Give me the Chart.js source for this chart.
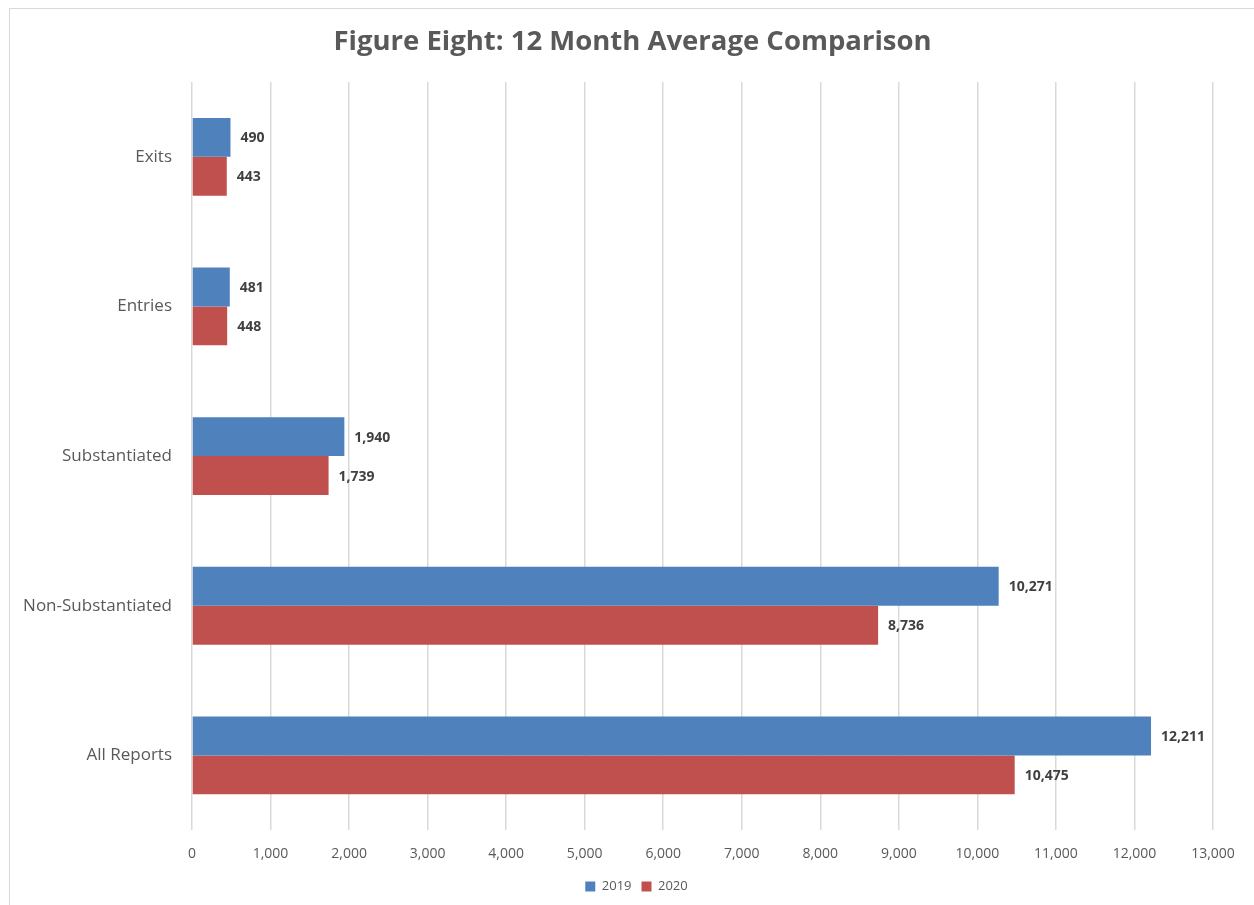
<!DOCTYPE html>
<html>
<head>
  <meta charset="UTF-8">
  <title>Figure Eight: 12 Month Average Comparison</title>
  <script src="https://cdn.jsdelivr.net/npm/chart.js"></script>
  <style>
    body { margin: 0; background: white; }
    #wrap { position: absolute; left: 0; top: 0; width: 1254px; height: 905px; }
  </style>
</head>
<body>
  <div id="wrap"><canvas id="chart" width="1254" height="905"></canvas></div>

  <script>
    const categories = ['Exits', 'Entries', 'Substantiated', 'Non-Substantiated', 'All Reports'];
    const values2019 = [490, 481, 1940, 10271, 12211];
    const values2020 = [443, 448, 1739, 8736, 10475];
    const seriesNames = ['2019', '2020'];

    const FONT = "'Open Sans', 'Liberation Sans', sans-serif";

    // light frame round the chart, like the office chart area
    const framePlugin = {
      id: 'frame',
      beforeDraw(chart) {
        const c = chart.ctx;
        c.save();
        c.strokeStyle = '#d9d9d9';
        c.lineWidth = 1;
        c.strokeRect(9.5, 8.5, 1260, 920);
        c.restore();
      }
    };

    // title and legend are centred on the whole frame, not on the padded area
    const blockShift = {
      id: 'blockShift',
      afterLayout(chart) {
        const t = chart.titleBlock;
        if (t) { t.left += 26; t.right += 26; }
        const l = chart.legend;
        if (l) { l.left += 30; l.right += 30; }
      }
    };

    // value labels at the end of each bar
    const labelPlugin = {
      id: 'barLabels',
      afterDatasetsDraw(chart) {
        const c = chart.ctx;
        c.save();
        c.font = "bold 14px " + FONT;
        c.fillStyle = '#404040';
        c.textAlign = 'left';
        c.textBaseline = 'middle';
        chart.data.datasets.forEach((ds, i) => {
          chart.getDatasetMeta(i).data.forEach((bar, j) => {
            c.fillText(ds.data[j].toLocaleString('en-US'), bar.x + 10, bar.y + 1);
          });
        });
        c.restore();
      }
    };

    const ctx = document.getElementById('chart').getContext('2d');
    new Chart(ctx, {
      type: 'bar',
      data: {
        labels: categories,
        datasets: [{
          label: seriesNames[0],
          data: values2019,
          backgroundColor: '#4f81bd',
          categoryPercentage: 0.52,
          barPercentage: 1
        }, {
          label: seriesNames[1],
          data: values2020,
          backgroundColor: '#c0504d',
          categoryPercentage: 0.52,
          barPercentage: 1
        }]
      },
      options: {
        indexAxis: 'y',
        responsive: false,
        animation: false,
        layout: { padding: { left: 0, right: 41, top: 26, bottom: 2 } },
        plugins: {
          title: {
            display: true,
            text: 'Figure Eight: 12 Month Average Comparison',
            color: '#595959',
            font: { family: FONT, size: 27.5, weight: 'bold' },
            padding: { top: 0, bottom: 23 }
          },
          legend: {
            position: 'bottom',
            labels: {
              color: '#595959',
              font: { family: FONT, size: 13 },
              boxWidth: 10,
              boxHeight: 10,
              padding: 10
            }
          },
          tooltip: { enabled: false }
        },
        scales: {
          x: {
            min: 0,
            max: 13000,
            ticks: {
              stepSize: 1000,
              color: '#595959',
              font: { family: FONT, size: 14 },
              padding: 15,
              callback: v => v.toLocaleString('en-US')
            },
            grid: { color: '#d9d9d9', lineWidth: 1.5, drawTicks: false },
            border: { display: false },
            afterFit(scale) { scale.height -= 7; }
          },
          y: {
            ticks: {
              color: '#595959',
              font: { family: FONT, size: 17 },
              padding: 20
            },
            grid: { display: false, drawTicks: false },
            border: { display: false },
            afterFit(scale) { scale.width = 192; }
          }
        }
      },
      plugins: [framePlugin, blockShift, labelPlugin]
    });
  </script>
</body>
</html>
